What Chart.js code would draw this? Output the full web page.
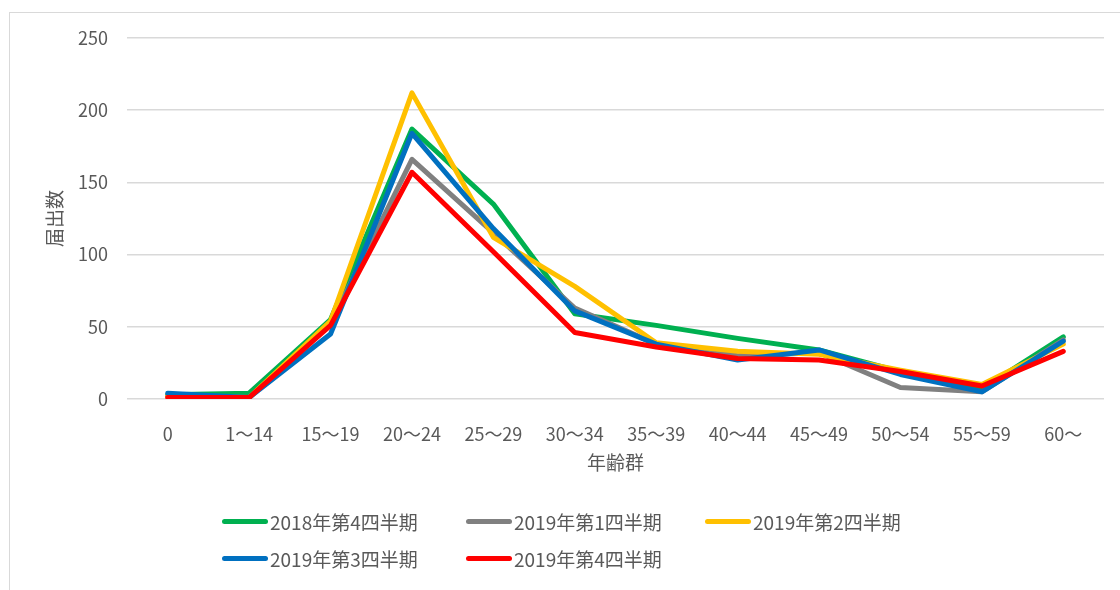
<!DOCTYPE html>
<html lang="ja">
<head>
<meta charset="utf-8">
<script src="https://cdn.jsdelivr.net/npm/chart.js@4.4.1/dist/chart.umd.min.js"></script>
<style>
  html, body { margin: 0; padding: 0; background: #fff; }
  #wrap { position: relative; width: 1120px; height: 590px; overflow: hidden; }
  #frame { position: absolute; left: 9px; top: 12px; width: 1200px; height: 700px;
           border-top: 1.5px solid #d9d9d9; border-left: 1.5px solid #d9d9d9; }
  #grafico { position: absolute; left: 0; top: 0; }
  #legenda { position: absolute; left: 222px; top: 508px;
             display: grid; grid-template-columns: 244px 239px auto; row-gap: 11px;
             font-family: "Noto Sans CJK JP", sans-serif; font-size: 19px; color: #595959; }
  #legenda .item { display: flex; align-items: center; height: 26px; }
  #legenda .amostra { width: 46px; height: 5px; border-radius: 3px; margin-right: 2px; }
</style>
</head>
<body>
<div id="wrap">
  <div id="frame"></div>
  <canvas id="grafico" width="1120" height="590"></canvas>
  <div id="legenda"></div>
</div>
<script>
// ====== DADOS ======
const faixas = ['0', '1～14', '15～19', '20～24', '25～29', '30～34', '35～39', '40～44', '45～49', '50～54', '55～59', '60～'];
const ticksY = [0, 50, 100, 150, 200, 250];

const nomes = ['2018年第4四半期', '2019年第1四半期', '2019年第2四半期', '2019年第3四半期', '2019年第4四半期'];
const q4_2018 = [3, 4, 55, 187, 135, 59, 51, 42, 34, 19, 7, 43];
const q1_2019 = [2, 1, 52, 166, 115, 63, 38, 30, 32, 8, 5, 41];
const q2_2019 = [2, 1, 54, 212, 112, 78, 39, 33, 31, 20, 10, 38];
const q3_2019 = [4, 1, 45, 184, 118, 61, 38, 27, 34, 17, 5, 40];
const q4_2019 = [1, 1, 51, 157, 102, 46, 36, 28, 27, 19, 9, 33];

const cores = ['#00b050', '#808080', '#ffc000', '#0070c0', '#ff0000'];
const series = [q4_2018, q1_2019, q2_2019, q3_2019, q4_2019];

const fonte = '"Noto Sans CJK JP", sans-serif';
const cinzaTexto = '#595959';

// ====== GRAFICO ======
const ctx = document.getElementById('grafico').getContext('2d');

const chart = new Chart(ctx, {
  type: 'line',
  data: {
    labels: faixas,
    datasets: series.map((valores, i) => ({
      label: nomes[i],
      data: valores,
      borderColor: cores[i],
      backgroundColor: cores[i],
      borderWidth: 5,
      borderJoinStyle: 'round',
      borderCapStyle: 'round',
      pointRadius: 0,
      tension: 0,
      order: series.length - i, // ultimo por cima
    })),
  },
  options: {
    responsive: false,
    animation: false,
    layout: { padding: { left: 0, top: 38, right: 16, bottom: 112 } },
    plugins: {
      legend: { display: false },
      tooltip: { enabled: false },
    },
    scales: {
      x: {
        offset: true,
        grid: { display: false },
        border: { display: false },
        ticks: {
          color: cinzaTexto,
          font: { family: fonte, size: 18 },
          padding: 16,
          maxRotation: 0,
          autoSkip: false,
        },
        title: {
          display: true,
          text: '年齢群',
          color: cinzaTexto,
          font: { family: fonte, size: 19 },
          padding: { top: 4, bottom: 4 },
        },
        afterFit: s => { s.height = 79; },
      },
      y: {
        min: 0,
        max: 250,
        afterBuildTicks: s => { s.ticks = ticksY.map(v => ({ value: v })); },
        grid: { color: '#d9d9d9', lineWidth: 1.5, drawTicks: false },
        border: { display: false },
        ticks: {
          color: cinzaTexto,
          font: { family: fonte, size: 18 },
          padding: 19,
        },
        title: {
          display: true,
          text: '届出数',
          color: cinzaTexto,
          font: { family: fonte, size: 19 },
          padding: { top: 43, bottom: 0 },
        },
        afterFit: s => { s.width = 127; },
      },
    },
  },
});

// ====== LEGENDA ======
const legenda = document.getElementById('legenda');
nomes.forEach((nome, i) => {
  const item = document.createElement('div');
  item.className = 'item';
  item.innerHTML = `<span class="amostra" style="background:${cores[i]}"></span><span>${nome}</span>`;
  legenda.appendChild(item);
});
</script>
</body>
</html>
